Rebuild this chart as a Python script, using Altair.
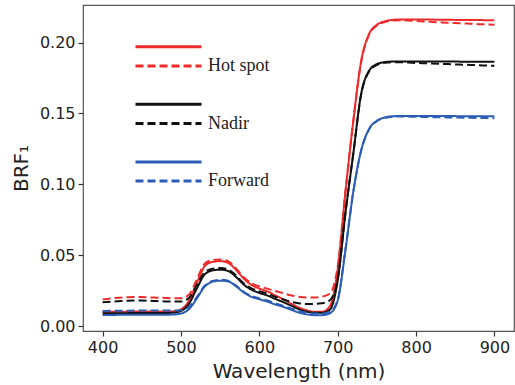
import altair as alt
import pandas as pd

wavelength = list(range(400, 901, 10))

hot_solid = [.0100, .0100, .0101, .0101, .0102, .0102, .0102, .0102, .0102, .0104,
             .0118, .0175, .0300, .0420, .0452, .0458, .0446, .0398, .0335, .0290,
             .0265, .0245, .0218, .0190, .0160, .0132, .0112, .0100, .0100, .0140,
             .0400, .0950, .1450, .1870, .2060, .2125, .2150, .2160, .2163, .2163,
             .2163, .2162, .2162, .2161, .2161, .2160, .2160, .2159, .2159, .2158, .2158]
hot_dashed = [.0188, .0195, .0200, .0203, .0205, .0204, .0202, .0200, .0198, .0196,
              .0196, .0220, .0325, .0438, .0465, .0470, .0457, .0408, .0345, .0302,
              .0280, .0264, .0248, .0233, .0217, .0207, .0202, .0202, .0207, .0228,
              .0420, .0955, .1450, .1865, .2055, .2120, .2145, .2155, .2157, .2155,
              .2152, .2149, .2146, .2143, .2140, .2138, .2135, .2133, .2130, .2128, .2125]
nadir_solid = [.0090, .0090, .0091, .0091, .0092, .0092, .0092, .0092, .0092, .0094,
               .0106, .0155, .0262, .0362, .0392, .0398, .0389, .0348, .0293, .0256,
               .0234, .0216, .0192, .0170, .0145, .0120, .0102, .0093, .0093, .0115,
               .0320, .0800, .1220, .1640, .1800, .1848, .1862, .1866, .1867, .1867,
               .1867, .1867, .1866, .1866, .1866, .1866, .1865, .1865, .1865, .1865, .1865]
nadir_dashed = [.0168, .0172, .0175, .0178, .0180, .0180, .0178, .0176, .0174, .0173,
                .0173, .0198, .0288, .0378, .0404, .0410, .0400, .0358, .0302, .0266,
                .0246, .0229, .0207, .0189, .0172, .0161, .0156, .0156, .0160, .0182,
                .0330, .0805, .1220, .1635, .1795, .1842, .1857, .1861, .1861, .1859,
                .1856, .1854, .1852, .1850, .1848, .1846, .1844, .1842, .1840, .1838, .1836]
fwd_solid = [.0078, .0078, .0079, .0079, .0080, .0080, .0080, .0080, .0080, .0081,
             .0088, .0118, .0192, .0276, .0312, .0320, .0315, .0282, .0237, .0206,
             .0189, .0173, .0153, .0136, .0116, .0096, .0083, .0077, .0077, .0090,
             .0180, .0540, .0950, .1240, .1390, .1448, .1472, .1480, .1482, .1482,
             .1482, .1482, .1481, .1481, .1481, .1481, .1480, .1480, .1480, .1480, .1480]
fwd_dashed = [.0106, .0107, .0108, .0108, .0109, .0109, .0109, .0109, .0109, .0110,
              .0112, .0135, .0202, .0283, .0318, .0326, .0320, .0287, .0242, .0212,
              .0195, .0180, .0161, .0144, .0125, .0106, .0094, .0089, .0089, .0100,
              .0185, .0545, .0950, .1238, .1387, .1445, .1468, .1476, .1478, .1477,
              .1476, .1475, .1474, .1473, .1472, .1471, .1470, .1469, .1468, .1467, .1466]

series_codes = ["a1", "a2", "g1", "b1", "b2", "g2", "c1", "c2"]
series_colors = ["#ee2b2b", "#ee2b2b", "rgba(0,0,0,0)", "#111111", "#111111",
                 "rgba(0,0,0,0)", "#2c5db5", "#2c5db5"]
series_dash = [[1, 0], [8, 4], [1, 0], [1, 0], [8, 4], [1, 0], [1, 0], [8, 4]]

series_data = {
    "a1": hot_solid, "a2": hot_dashed,
    "b1": nadir_solid, "b2": nadir_dashed,
    "c1": fwd_solid, "c2": fwd_dashed,
}

rows = []
for code, vals in series_data.items():
    for w, v in zip(wavelength, vals):
        rows.append({"wavelength": w, "brf": v, "series": code})
df = pd.DataFrame(rows)

label_expr = ("datum.label == 'a2' ? 'Hot spot' : datum.label == 'b2' ? 'Nadir' : "
              "datum.label == 'c2' ? 'Forward' : ''")

legend = alt.Legend(
    title=None, orient="none", legendX=51, legendY=32.7, direction="vertical",
    symbolType="stroke", symbolSize=4356, symbolStrokeWidth=3,
    clipHeight=18, rowPadding=1.2, padding=0,
    labelFont="Liberation Serif", labelFontSize=18, labelColor="#222222",
    labelOffset=5, labelExpr=label_expr, labelLimit=200,
)

chart = alt.Chart(df).mark_line(strokeWidth=2, interpolate="monotone").encode(
    x=alt.X("wavelength:Q",
            scale=alt.Scale(domain=[375, 925], nice=False, zero=False),
            axis=alt.Axis(title="Wavelength (nm)", values=[400, 500, 600, 700, 800, 900],
                          format="d", titlePadding=6)),
    y=alt.Y("brf:Q",
            scale=alt.Scale(domain=[-0.0035, 0.2265], nice=False, zero=False),
            axis=alt.Axis(title="BRF₁", values=[0, 0.05, 0.10, 0.15, 0.20],
                          format=".2f", titlePadding=8)),
    color=alt.Color("series:N",
                    scale=alt.Scale(domain=series_codes, range=series_colors),
                    legend=legend),
    strokeDash=alt.StrokeDash("series:N",
                              scale=alt.Scale(domain=series_codes, range=series_dash),
                              legend=legend),
    order=alt.Order("series:N"),
).properties(
    width=431, height=326,
    autosize=alt.AutoSizeParams(type="none"),
    padding={"left": 83, "top": 5, "right": 1, "bottom": 54},
).configure_view(
    stroke="#555555", strokeWidth=1.2,
).configure_axis(
    domain=False, grid=False,
    labelFont="DejaVu Sans", labelFontSize=16, labelColor="#222222",
    titleFont="DejaVu Sans", titleFontSize=20, titleFontWeight="normal", titleColor="#222222",
    tickColor="#333333", tickSize=5, tickWidth=1.2, labelPadding=3,
)

chart.save("out.html", embed_options={"renderer": "svg", "actions": False})
